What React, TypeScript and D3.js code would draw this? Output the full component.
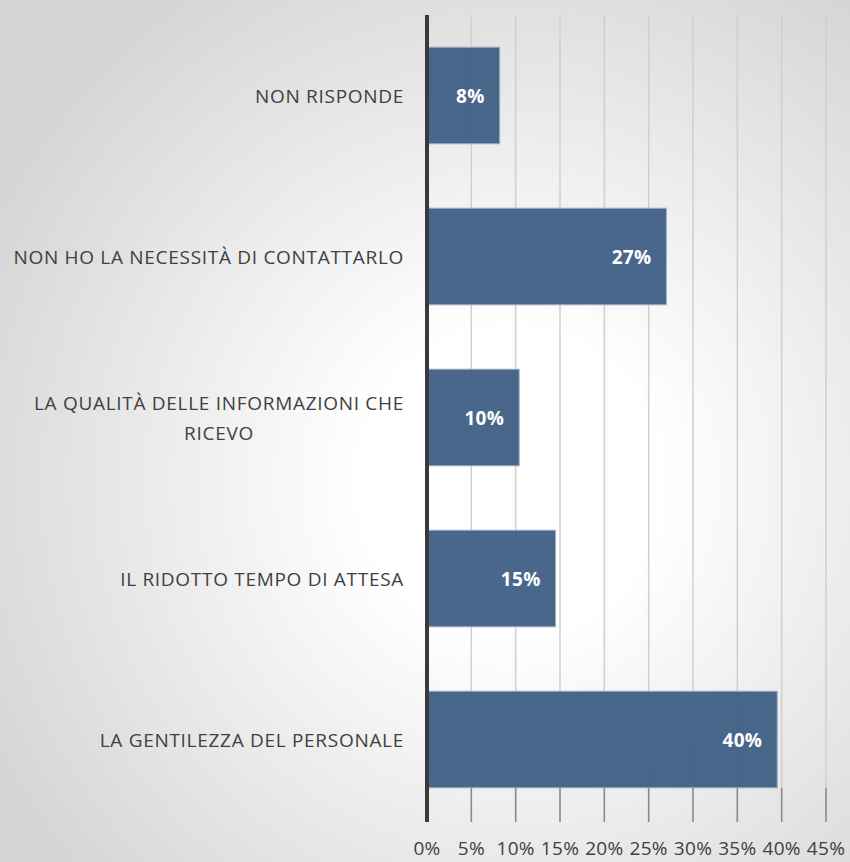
import React, { useEffect, useRef } from "react";
import * as d3 from "d3";

const categories = [
  "NON RISPONDE",
  "NON HO LA NECESSITÀ DI CONTATTARLO",
  "LA QUALITÀ DELLE INFORMAZIONI CHE RICEVO",
  "IL RIDOTTO TEMPO DI ATTESA",
  "LA GENTILEZZA DEL PERSONALE",
];
const values = [8.2, 27.0, 10.4, 14.5, 39.5];
const valueLabels = ["8%", "27%", "10%", "15%", "40%"];
const tickValues = [0, 5, 10, 15, 20, 25, 30, 35, 40, 45];

const W = 850;
const H = 862;

// wrap a category label into lines that fit maxWidth
function wrapLabel(text: string, maxWidth: number, measure: (s: string) => number) {
  const words = text.split(" ");
  const lines: string[] = [];
  let cur = "";
  words.forEach((w) => {
    const next = cur ? cur + " " + w : w;
    if (measure(next) > maxWidth && cur) {
      lines.push(cur);
      cur = w;
    } else cur = next;
  });
  if (cur) lines.push(cur);
  return lines;
}

const App = () => {
  const svgRef = useRef<SVGSVGElement>(null);

  useEffect(() => {
    const font = "'Open Sans', sans-serif";
    const fs = 19;
    const ls = 0.7;
    const svg = d3.select(svgRef.current);
    svg.selectAll("*").remove();
    svg.attr("width", W).attr("height", H);

    const defs = svg.append("defs");
    const bg = defs
      .append("radialGradient")
      .attr("id", "bgGrad")
      .attr("cx", "60%")
      .attr("cy", "56%")
      .attr("r", "70%");
    bg.append("stop").attr("offset", "0%").attr("stop-color", "#ffffff");
    bg.append("stop").attr("offset", "25%").attr("stop-color", "#ffffff");
    bg.append("stop").attr("offset", "100%").attr("stop-color", "#d4d4d4");

    svg.append("rect").attr("width", W).attr("height", H).attr("fill", "url(#bgGrad)");

    const left = 427;
    const x = d3.scaleLinear().domain([0, 45]).range([left, left + 399]);
    const y = d3.scaleBand<string>().domain(categories).range([15, 820]).paddingInner(0.4).paddingOuter(0.2);

    const lastBottom = (y(categories[categories.length - 1]) as number) + y.bandwidth();
    const axisBottom = 822;

    // gridlines
    const grid = svg.append("g");
    tickValues.slice(1).forEach((t) => {
      grid
        .append("line")
        .attr("x1", x(t))
        .attr("x2", x(t))
        .attr("y1", 15)
        .attr("y2", axisBottom)
        .attr("stroke", "#cfcfcf")
        .attr("stroke-width", 1.5);
      grid
        .append("line")
        .attr("x1", x(t))
        .attr("x2", x(t))
        .attr("y1", lastBottom)
        .attr("y2", axisBottom)
        .attr("stroke", "#8a8a8a")
        .attr("stroke-width", 1.5);
    });

    // bars
    svg
      .append("g")
      .selectAll("rect")
      .data(values)
      .enter()
      .append("rect")
      .attr("x", x(0))
      .attr("y", (d, i) => y(categories[i]) as number)
      .attr("width", (d) => x(d) - x(0))
      .attr("height", y.bandwidth())
      .attr("fill", "#3e5e84")
      .attr("fill-opacity", 0.94)
      .attr("stroke", "#9fb0c6")
      .attr("stroke-width", 1);

    // value labels
    svg
      .append("g")
      .selectAll("text")
      .data(values)
      .enter()
      .append("text")
      .attr("x", (d) => x(d) - 15)
      .attr("y", (d, i) => (y(categories[i]) as number) + y.bandwidth() / 2)
      .attr("text-anchor", "end")
      .attr("dominant-baseline", "central")
      .attr("font-family", font)
      .attr("font-size", 19)
      .attr("letter-spacing", 0.3)
      .attr("font-weight", "bold")
      .attr("fill", "#ffffff")
      .text((d, i) => valueLabels[i]);

    // category labels
    const measureNode = svg
      .append("text")
      .attr("font-family", font)
      .attr("font-size", fs)
      .attr("letter-spacing", ls)
      .attr("visibility", "hidden");
    const measure = (s: string) => {
      measureNode.text(s);
      return (measureNode.node() as SVGTextElement).getComputedTextLength();
    };
    const catG = svg.append("g");
    categories.forEach((c) => {
      const lines = wrapLabel(c, 395, measure);
      const cy = (y(c) as number) + y.bandwidth() / 2;
      const lh = 30;
      const t = catG
        .append("text")
        .attr("text-anchor", "middle")
        .attr("font-family", font)
        .attr("font-size", fs)
        .attr("letter-spacing", ls)
        .attr("fill", "#404040");
      const widest = Math.max(...lines.map(measure));
      lines.forEach((ln, k) => {
        t.append("tspan")
          .attr("x", 404 - widest / 2)
          .attr("y", cy + (k - (lines.length - 1) / 2) * lh)
          .attr("dominant-baseline", "central")
          .text(ln);
      });
    });
    measureNode.remove();

    // axis line
    svg
      .append("line")
      .attr("x1", x(0))
      .attr("x2", x(0))
      .attr("y1", 15)
      .attr("y2", axisBottom)
      .attr("stroke", "#3a3a3a")
      .attr("stroke-width", 4);

    // tick labels
    svg
      .append("g")
      .selectAll("text")
      .data(tickValues)
      .enter()
      .append("text")
      .attr("x", (d) => x(d))
      .attr("y", 848)
      .attr("text-anchor", "middle")
      .attr("dominant-baseline", "central")
      .attr("font-family", font)
      .attr("font-size", fs)
      .attr("letter-spacing", 0.3)
      .attr("fill", "#404040")
      .text((d) => d + "%");
  }, []);

  return (
    <div style={{ position: "absolute", left: 0, top: 0 }}>
      <svg ref={svgRef} style={{ display: "block" }} />
    </div>
  );
};

export default App;
